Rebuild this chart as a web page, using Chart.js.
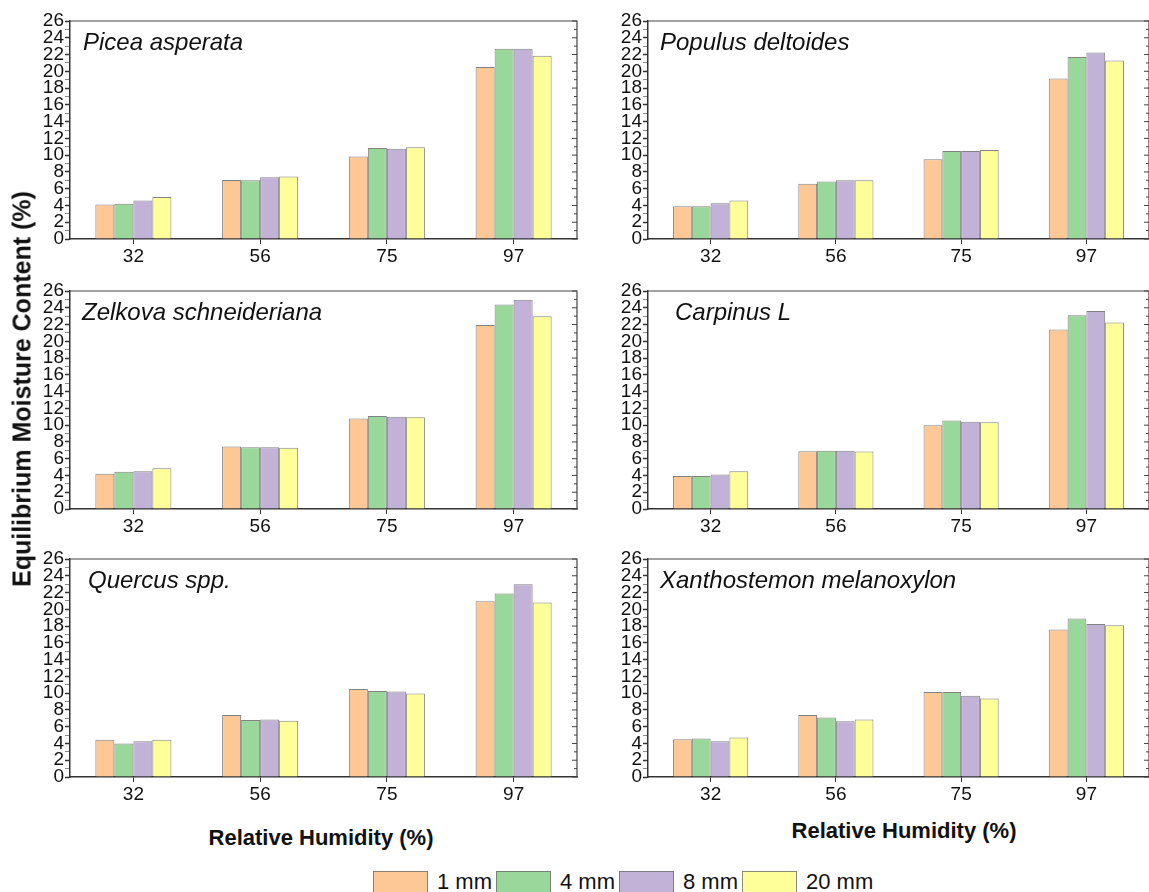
<!DOCTYPE html>
<html>
<head>
<meta charset="utf-8">
<script src="https://cdn.jsdelivr.net/npm/chart.js@4"></script>
<style>
  body { margin: 0; background: #fff; font-family: "Liberation Sans", Arial, sans-serif; }
  #wrap { position: relative; width: 1149px; height: 892px; overflow: hidden; }
  canvas { position: absolute; }
  .axTitle { position: absolute; font-weight: bold; font-size: 22px; color: #111; white-space: nowrap; transform: translate(-50%, -50%); }
  #yTitle { font-size: 25px; transform: translate(-50%, -50%) rotate(-90deg); }
  #legend { position: absolute; left: 373px; top: 871px; display: flex; align-items: flex-start; font-size: 22px; color: #111; }
  #legend .box { width: 53px; height: 21px; border: 1px solid rgba(110,110,110,0.8); margin-right: 9px; }
  #legend .lbl { margin-right: 4px; line-height: 22px; }
</style>
</head>
<body>
<div id="wrap">
  <canvas id="c0" width="580" height="268" style="left:0px;top:0px"></canvas>
  <canvas id="c1" width="571" height="268" style="left:578px;top:0px"></canvas>
  <canvas id="c2" width="580" height="268" style="left:0px;top:270px"></canvas>
  <canvas id="c3" width="571" height="268" style="left:578px;top:270px"></canvas>
  <canvas id="c4" width="580" height="268" style="left:0px;top:538px"></canvas>
  <canvas id="c5" width="571" height="268" style="left:578px;top:538px"></canvas>
  <div class="axTitle" id="yTitle" style="left:22px;top:389px">Equilibrium Moisture Content (%)</div>
  <div class="axTitle" style="left:321px;top:838px">Relative Humidity (%)</div>
  <div class="axTitle" style="left:904px;top:831px">Relative Humidity (%)</div>
  <div id="legend"></div>
</div>
<script>
// 数据：相对湿度类别、试样厚度、各树种的平衡含水率
const humidity = ['32', '56', '75', '97'];
const thickness = ['1 mm', '4 mm', '8 mm', '20 mm'];
const species = ['Picea asperata', 'Populus deltoides', 'Zelkova schneideriana',
                 'Carpinus L', 'Quercus spp.', 'Xanthostemon melanoxylon'];

// 每行对应一种厚度 (1, 4, 8, 20 mm)
const piceaAsperata = [
  [4.1, 7.05, 9.85, 20.5],
  [4.2, 7.0, 10.85, 22.7],
  [4.6, 7.35, 10.75, 22.7],
  [5.0, 7.45, 10.95, 21.85]
];
const populusDeltoides = [
  [3.9, 6.6, 9.5, 19.15],
  [3.9, 6.85, 10.5, 21.7],
  [4.25, 7.0, 10.5, 22.25],
  [4.6, 7.0, 10.6, 21.3]
];
const zelkovaSchneideriana = [
  [4.2, 7.45, 10.8, 21.95],
  [4.45, 7.35, 11.1, 24.4],
  [4.5, 7.35, 11.0, 24.95],
  [4.85, 7.3, 10.95, 23.0]
];
const carpinusL = [
  [3.95, 6.9, 10.0, 21.4],
  [3.95, 6.95, 10.55, 23.1],
  [4.1, 6.95, 10.4, 23.6],
  [4.5, 6.85, 10.35, 22.25]
];
const quercusSpp = [
  [4.45, 7.4, 10.5, 20.95],
  [4.0, 6.8, 10.25, 21.9],
  [4.25, 6.85, 10.2, 23.0],
  [4.45, 6.7, 9.95, 20.8]
];
const xanthostemonMelanoxylon = [
  [4.5, 7.4, 10.15, 17.6],
  [4.6, 7.1, 10.15, 18.9],
  [4.25, 6.65, 9.7, 18.25],
  [4.7, 6.85, 9.35, 18.1]
];

const panelValues = [piceaAsperata, populusDeltoides, zelkovaSchneideriana,
                     carpinusL, quercusSpp, xanthostemonMelanoxylon];

// 样式
const fillColors = ['#FDC895', '#9AD79B', '#C2B2D7', '#FFFF99'];
const titleOffsets = [13, 12, 12, 27, 18, 12];

// 图例
const legend = document.getElementById('legend');
thickness.forEach((t, i) => {
  const box = document.createElement('div');
  box.className = 'box';
  box.style.background = fillColors[i];
  const lbl = document.createElement('div');
  lbl.className = 'lbl';
  lbl.textContent = t;
  legend.appendChild(box);
  legend.appendChild(lbl);
});

// 边框与树种名称
const framePlugin = {
  id: 'frame',
  afterDraw(chart, args, opts) {
    const { ctx, chartArea: a, scales } = chart;
    ctx.save();
    ctx.strokeStyle = '#444';
    ctx.lineWidth = 1.2;
    ctx.beginPath();
    ctx.moveTo(a.left, a.top);
    ctx.lineTo(a.right, a.top);
    ctx.lineTo(a.right, a.bottom);
    ctx.stroke();
    // 右侧内向刻度
    ctx.lineWidth = 1;
    scales.y.ticks.forEach(t => {
      const y = scales.y.getPixelForValue(t.value);
      const len = t.value % 2 === 0 ? 5 : 3;
      ctx.beginPath();
      ctx.moveTo(a.right, y);
      ctx.lineTo(a.right - len, y);
      ctx.stroke();
    });
    ctx.fillStyle = '#111';
    ctx.font = 'italic 24px "Liberation Sans", Arial, sans-serif';
    ctx.textBaseline = 'middle';
    ctx.fillText(opts.title, a.left + opts.offset, a.top + 22);
    ctx.restore();
  }
};

function makePanel(i) {
  const rightCol = i % 2 === 1;
  const values = panelValues[i];
  const ctx = document.getElementById('c' + i).getContext('2d');
  new Chart(ctx, {
    type: 'bar',
    data: {
      labels: humidity,
      datasets: thickness.map((t, k) => ({
        label: t,
        data: values[k],
        backgroundColor: fillColors[k],
        borderColor: 'rgba(90,90,90,0.75)',
        borderWidth: 1,
        categoryPercentage: 0.6,
        barPercentage: 1.0,
      })),
    },
    options: {
      responsive: false,
      animation: false,
      layout: { padding: { top: 21, right: rightCol ? 0 : 3, left: 0, bottom: 0 } },
      plugins: {
        legend: { display: false },
        tooltip: { enabled: false },
        frame: { title: species[i], offset: titleOffsets[i] },
      },
      scales: {
        x: {
          afterFit: s => { s.height = 29; },
          border: { color: '#333', width: 1.5 },
          grid: { offset: false, drawOnChartArea: false, tickLength: 5, color: '#333' },
          ticks: { color: '#111', padding: 1, font: { size: 19, family: '"Liberation Sans", Arial' } },
        },
        y: {
          min: 0,
          max: 26,
          afterFit: s => { s.width = 70; },
          border: { color: '#333', width: 1.5 },
          grid: {
            drawOnChartArea: false,
            tickLength: 5,
            tickColor: c => (c.tick && c.tick.value % 2 !== 0) ? 'rgba(0,0,0,0.45)' : '#333',
            tickWidth: c => (c.tick && c.tick.value % 2 !== 0) ? 1 : 1.5,
          },
          ticks: {
            stepSize: 1,
            maxTicksLimit: 30,
            autoSkip: false,
            padding: 1,
            color: '#111',
            font: { size: 19, family: '"Liberation Sans", Arial', lineHeight: 1 },
            callback: v => (v % 2 === 0 ? v : ''),
          },
        },
      },
    },
    plugins: [framePlugin],
  });
}

for (let i = 0; i < 6; i++) makePanel(i);
</script>
</body>
</html>
